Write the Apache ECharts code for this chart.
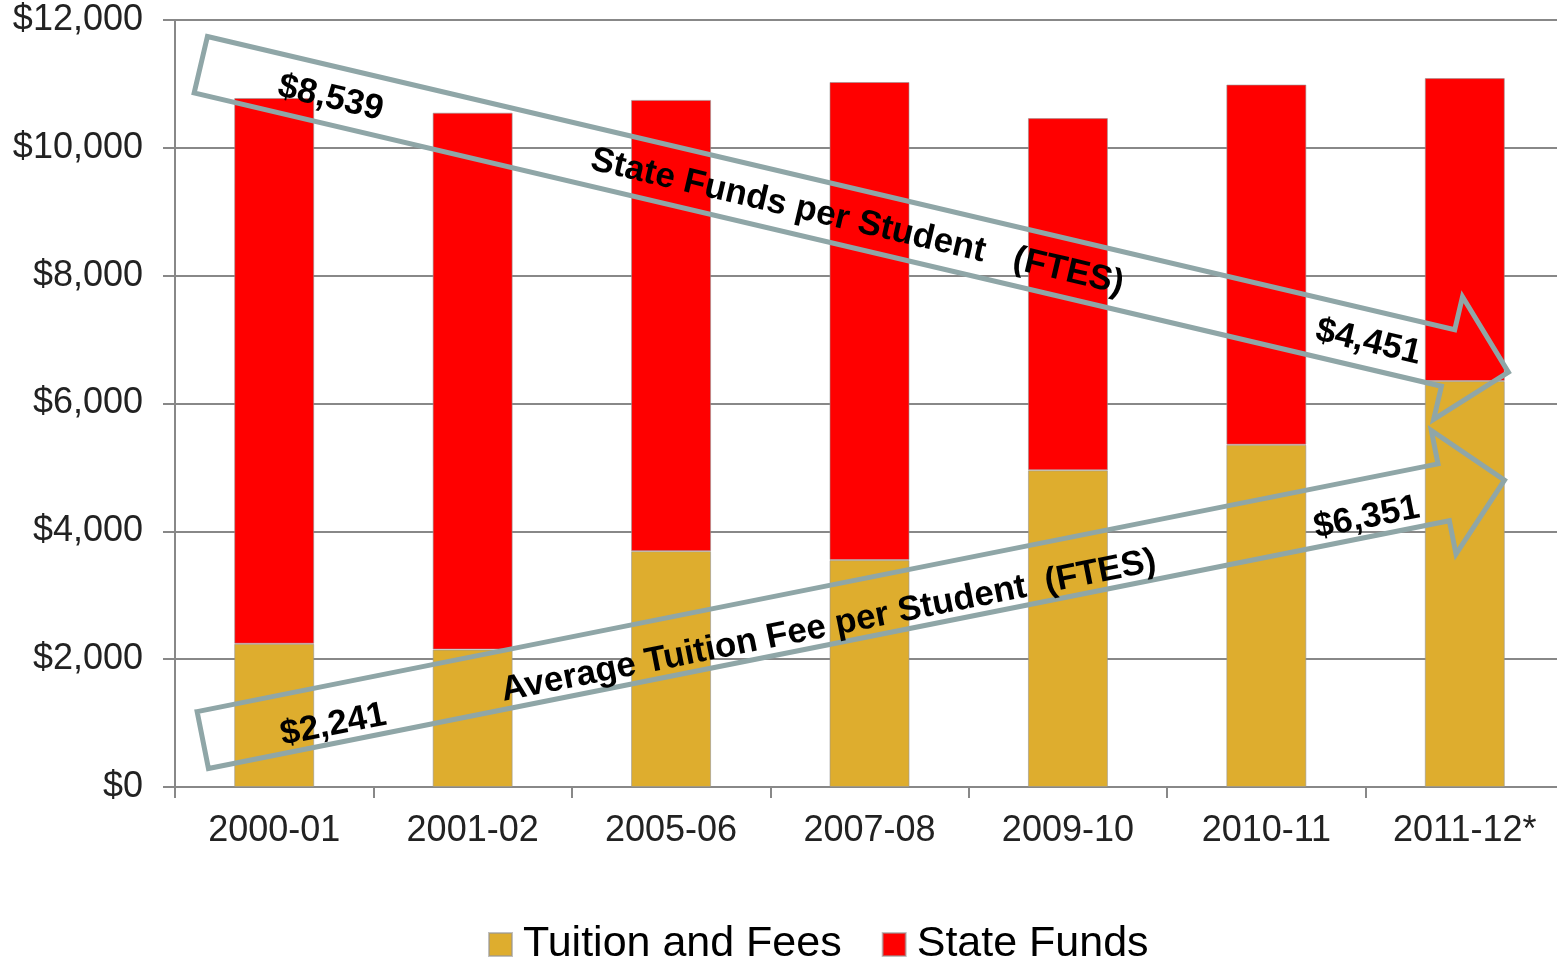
<!DOCTYPE html>
<html>
<head>
<meta charset="utf-8">
<script src="https://cdn.jsdelivr.net/npm/echarts@6/dist/echarts.min.js"></script>
<style>
  html, body { margin: 0; padding: 0; background: #fff; }
  #chart { width: 1557px; height: 961px; }
</style>
</head>
<body>
<div id="chart"></div>
<script>
// 数据
const years = ['2000-01', '2001-02', '2005-06', '2007-08', '2009-10', '2010-11', '2011-12*']
const tuition = [2241, 2150, 3690, 3550, 4955, 5355, 6351]
const stateFunds = [8539, 8400, 7060, 7480, 5510, 5635, 4740]
const yTicks = [0, 2000, 4000, 6000, 8000, 10000, 12000]

// 箭头注释 (类目序号, 数值)
const stateArrow = { from: [-0.37, 11300], to: [6.22, 6490] }
const tuitionArrow = { from: [-0.36, 735], to: [6.2, 4800] }
const stateLabels = ['$8,539', 'State Funds per Student   (FTES)', '$4,451']
const tuitionLabels = ['$2,241', 'Average Tuition Fee per Student  (FTES)', '$6,351']

const font = '"Liberation Sans", Arial, sans-serif'
const myChart = echarts.init(document.querySelector('#chart'))

const money = v => '$' + v.toLocaleString('en-US')

const option = {
  animation: false,
  grid: { left: 175, width: 1389, top: 20, bottom: 174, outerBoundsMode: 'none' },
  legend: {
    data: ['Tuition and Fees', 'State Funds'],
    left: 483,
    top: 918,
    icon: 'rect',
    itemWidth: 23,
    itemHeight: 23,
    itemGap: 40,
    textStyle: { fontSize: 43, color: '#000', fontFamily: font, padding: [0, 0, 0, 6] }
  },
  xAxis: {
    type: 'category',
    data: years,
    axisLine: { lineStyle: { color: '#888', width: 2 } },
    axisTick: { show: true, length: 11, lineStyle: { color: '#888', width: 2 } },
    axisLabel: { fontSize: 36, color: '#222', fontFamily: font, margin: 26 }
  },
  yAxis: {
    type: 'value',
    min: yTicks[0],
    max: yTicks[yTicks.length - 1],
    interval: 2000,
    axisLine: { show: true, lineStyle: { color: '#888', width: 2 } },
    axisTick: { show: true, length: 12, lineStyle: { color: '#888', width: 2 } },
    splitLine: { lineStyle: { color: '#888', width: 2 } },
    axisLabel: { fontSize: 36, color: '#222', fontFamily: font, margin: 32, formatter: money }
  },
  series: [
    {
      name: 'Tuition and Fees',
      type: 'bar',
      stack: 'total',
      barWidth: 80,
      data: tuition,
      itemStyle: { color: '#DEAD2E', borderColor: 'rgba(150,150,150,0.6)', borderWidth: 1 }
    },
    {
      name: 'State Funds',
      type: 'bar',
      stack: 'total',
      barWidth: 80,
      data: stateFunds,
      itemStyle: { color: '#FF0000', borderColor: 'rgba(150,150,150,0.6)', borderWidth: 1 }
    }
  ]
}

myChart.setOption(option)

// 类目序号(可为小数) + 数值 -> 像素
const toPx = ([i, v]) => {
  const x0 = myChart.convertToPixel({ xAxisIndex: 0 }, years[0])
  const x1 = myChart.convertToPixel({ xAxisIndex: 0 }, years[1])
  return [x0 + (x1 - x0) * i, myChart.convertToPixel({ yAxisIndex: 0 }, v)]
}

// 生成箭头和文字
const buildArrow = (arrow, labels, spots) => {
  const a = toPx(arrow.from)
  const b = toPx(arrow.to)
  const dx = b[0] - a[0], dy = b[1] - a[1]
  const L = Math.hypot(dx, dy)
  const u = [dx / L, dy / L]
  const n = [-u[1], u[0]]
  const w = 29, hw = 63, hl = 62
  const p = (s, t) => [a[0] + u[0] * s + n[0] * t, a[1] + u[1] * s + n[1] * t]
  const pts = [p(0, -w), p(L - hl, -w), p(L - hl, -hw), p(L, 0), p(L - hl, hw), p(L - hl, w), p(0, w)]
  const rot = -Math.atan2(dy, dx)
  const items = [{
    type: 'polygon',
    z: 10,
    shape: { points: pts },
    style: { fill: 'none', stroke: '#8FA6A7', lineWidth: 5, lineJoin: 'miter' }
  }]
  labels.forEach((txt, k) => {
    const [s, t, size] = spots[k]
    const c = p(s, t)
    items.push({
      type: 'text',
      z: 11,
      x: c[0],
      y: c[1],
      rotation: rot,
      style: {
        text: txt,
        fill: '#000',
        font: `bold ${size}px ${font}`,
        align: 'center',
        verticalAlign: 'middle'
      }
    })
  })
  return items
}

myChart.setOption({
  graphic: [
    ...buildArrow(stateArrow, stateLabels, [[134, 3, 35], [675, 3, 35], [1200, 3, 35]]),
    ...buildArrow(tuitionArrow, tuitionLabels, [[131, 11, 35], [636, 11, 35], [1185, 10, 35]])
  ]
})
</script>
</body>
</html>
